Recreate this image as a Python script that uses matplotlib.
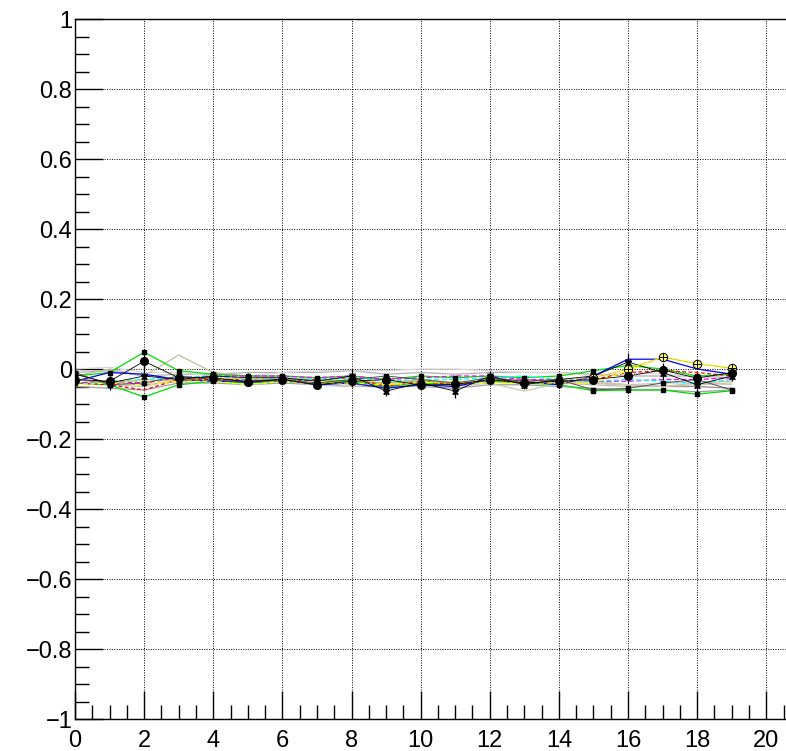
import numpy as np
import matplotlib.pyplot as plt
from matplotlib.ticker import MultipleLocator

plt.rcParams['font.family'] = ['Liberation Sans', 'DejaVu Sans']

x = np.arange(20)

# background bundle of residual curves
gray1 = [-0.010, -0.005, -0.020, -0.015, -0.015, -0.010, -0.010, -0.010, -0.005, -0.015,
         -0.010, -0.015, -0.010, -0.010, -0.010, -0.015, -0.020, -0.020, -0.020, -0.025]
gray2 = [-0.030, -0.040, -0.045, -0.035, -0.030, -0.035, -0.030, -0.030, -0.035, -0.040,
         -0.035, -0.040, -0.035, -0.030, -0.035, -0.040, -0.045, -0.050, -0.050, -0.055]
gray3 = [-0.050, -0.055, -0.060, -0.040, -0.040, -0.045, -0.040, -0.045, -0.050, -0.050,
         -0.050, -0.055, -0.045, -0.045, -0.050, -0.055, -0.060, -0.060, -0.065, -0.060]
gray4 = [0.000, 0.005, -0.010, -0.010, -0.020, -0.020, -0.010, -0.005, -0.005, -0.005,
         0.000, 0.000, -0.005, -0.010, -0.010, -0.020, -0.010, -0.015, -0.020, -0.030]
gray5 = [-0.040, -0.045, -0.050, -0.030, -0.030, -0.040, -0.035, -0.040, -0.040, -0.045,
         -0.050, -0.040, -0.035, -0.040, -0.035, -0.040, -0.045, -0.040, -0.040, -0.045]
tan1 = [-0.020, 0.000, -0.020, 0.040, -0.010, -0.020, -0.025, -0.030, -0.045, -0.040,
        -0.030, -0.040, -0.035, -0.040, -0.040, -0.045, -0.050, -0.050, -0.040, -0.035]
tan2 = [-0.040, -0.040, -0.030, -0.035, -0.030, -0.030, -0.035, -0.045, -0.050, -0.045,
        -0.040, -0.050, -0.040, -0.063, -0.040, -0.035, -0.045, -0.050, -0.045, -0.040]

# coloured curves
green_a = [-0.020, -0.010, 0.048, -0.005, -0.015, -0.020, -0.020, -0.025, -0.020, -0.030,
           -0.020, -0.025, -0.020, -0.025, -0.020, -0.005, 0.010, 0.000, -0.020, -0.015]
green_b = [-0.040, -0.045, -0.080, -0.045, -0.035, -0.040, -0.035, -0.040, -0.035, -0.050,
           -0.040, -0.045, -0.035, -0.040, -0.045, -0.062, -0.060, -0.060, -0.072, -0.062]
blue = [-0.035, -0.010, -0.015, -0.030, -0.035, -0.035, -0.030, -0.045, -0.040, -0.055,
        -0.045, -0.050, -0.030, -0.035, -0.045, -0.020, 0.028, 0.028, 0.000, -0.015]
red = [-0.040, -0.045, -0.060, -0.030, -0.030, -0.030, -0.035, -0.030, -0.025, -0.050,
       -0.035, -0.045, -0.030, -0.040, -0.035, -0.030, -0.010, -0.005, -0.010, -0.020]
magenta = [-0.040, -0.035, -0.040, -0.025, -0.020, -0.020, -0.020, -0.025, -0.020, -0.030,
           -0.025, -0.020, -0.020, -0.030, -0.030, -0.035, -0.035, -0.030, -0.030, -0.025]
cyan = [-0.045, -0.035, -0.030, -0.025, -0.020, -0.030, -0.025, -0.030, -0.025, -0.035,
        -0.030, -0.030, -0.025, -0.020, -0.030, -0.035, -0.030, -0.035, -0.040, -0.030]
yellow = [-0.045, -0.040, -0.045, -0.035, -0.035, -0.045, -0.035, -0.040, -0.040, -0.045,
          -0.040, -0.035, -0.040, -0.040, -0.040, -0.040, -0.005, 0.034, 0.016, 0.002]

# black curves with markers and errors
blk_circ = [-0.030, -0.035, 0.022, -0.025, -0.025, -0.037, -0.030, -0.045, -0.035, -0.030,
            -0.046, -0.044, -0.030, -0.040, -0.035, -0.030, -0.020, -0.003, -0.026, -0.010]
blk_star = [-0.015, -0.040, -0.020, -0.030, -0.020, -0.025, -0.025, -0.035, -0.020, -0.063,
            -0.040, -0.063, -0.020, -0.045, -0.030, -0.020, 0.020, -0.010, -0.045, -0.020]
blk_sq = [-0.010, -0.045, -0.040, -0.020, -0.030, -0.040, -0.030, -0.040, -0.030, -0.020,
          -0.030, -0.040, -0.025, -0.035, -0.030, -0.060, -0.055, -0.040, -0.030, -0.060]
oplus = [-0.030, -0.035, -0.035, -0.030, -0.025, -0.030, -0.025, -0.035, -0.030, -0.040,
         -0.035, -0.040, -0.030, -0.035, -0.030, -0.025, 0.000, 0.034, 0.015, 0.002]
circ_err = [0.015, 0.015, 0.020, 0.012, 0.010, 0.012, 0.010, 0.008, 0.015, 0.010,
            0.010, 0.012, 0.015, 0.010, 0.010, 0.012, 0.020, 0.020, 0.015, 0.012]
star_err = [0.015, 0.020, 0.030, 0.015, 0.010, 0.015, 0.010, 0.010, 0.020, 0.015,
            0.015, 0.020, 0.015, 0.012, 0.015, 0.015, 0.025, 0.020, 0.020, 0.015]

fig = plt.figure(figsize=(7.86, 7.51), dpi=100)
ax = fig.add_axes([75 / 786, 32 / 751, 711 / 786, 700 / 751])

# grey and tan curves underneath
for ys, c in [(gray1, '#b0b0b0'), (gray2, '#909090'), (gray3, '#a0a0a0'),
              (gray4, '#d8d8d8'), (gray5, '#c8c8c8'), (tan1, '#c8bca0'), (tan2, '#d0c8b0')]:
    ax.plot(x, ys, color=c, lw=0.9, zorder=2)

for ys, c, ls in [(green_a, '#00dd00', '-'), (green_b, '#00dd00', '-'),
                  (blue, '#0000ff', '-'), (red, '#ff0000', (0, (3, 2))),
                  (magenta, '#ff00ff', (0, (4, 2))), (cyan, '#00ffff', (0, (4, 2))),
                  (yellow, '#ffff00', (0, (4, 2)))]:
    ax.plot(x, ys, color=c, lw=0.9, ls=ls, zorder=3)
ax.plot(x, green_a, 's', color='black', ms=2.2, zorder=4)
ax.plot(x, green_b, 's', color='black', ms=2.2, zorder=4)

ax.plot(x, blk_sq, color='#505050', lw=0.7, marker='s', ms=2.2, mfc='black', mec='black', zorder=4)
ax.errorbar(x, blk_star, yerr=star_err, color='black', lw=0.6, marker='*', ms=5,
            elinewidth=0.9, capsize=0, zorder=5)
ax.plot(x, blk_star, ls='none', marker='x', color='black', ms=4.5, mew=0.8, zorder=5)
ax.errorbar(x, blk_circ, yerr=circ_err, color='black', lw=0.6, marker='o', ms=5.5,
            elinewidth=0.9, capsize=0, zorder=6)
ax.plot(x[15:], oplus[15:], color='#e0d000', lw=0.7, marker='o', ms=6, mfc='#ffff60',
        mec='black', mew=0.7, zorder=6)
ax.plot(x[15:], oplus[15:], ls='none', marker='+', color='black', ms=6, mew=0.7, zorder=7)
ax.plot(x[:16], oplus[:16], color='#e0d000', lw=0.7, ls=(0, (4, 2)), zorder=3)

ax.set_xlim(0, 20.57)
ax.set_ylim(-1, 1)
ax.xaxis.set_major_locator(MultipleLocator(2))
ax.xaxis.set_minor_locator(MultipleLocator(0.5))
ax.yaxis.set_major_locator(MultipleLocator(0.2))
ax.yaxis.set_minor_locator(MultipleLocator(0.05))
ax.tick_params(which='both', direction='in', top=False, right=False, width=1, labelsize=17)
ax.tick_params(which='major', length=20)
ax.tick_params(which='minor', length=10)
ax.tick_params(axis='y', pad=2)
ax.tick_params(axis='x', pad=8)
ax.set_yticks(np.round(np.arange(-1, 1.01, 0.2), 1))
ax.set_yticklabels(['\u22121', '\u22120.8', '\u22120.6', '\u22120.4', '\u22120.2', '0',
                    '0.2', '0.4', '0.6', '0.8', '1'])
ax.grid(True, which='major', color='black', ls=(0, (1, 1.5)), lw=0.7)
ax.spines['right'].set_visible(False)
for s in ['left', 'top', 'bottom']:
    ax.spines[s].set_linewidth(1.0)

fig.savefig('out.png', dpi=100)
